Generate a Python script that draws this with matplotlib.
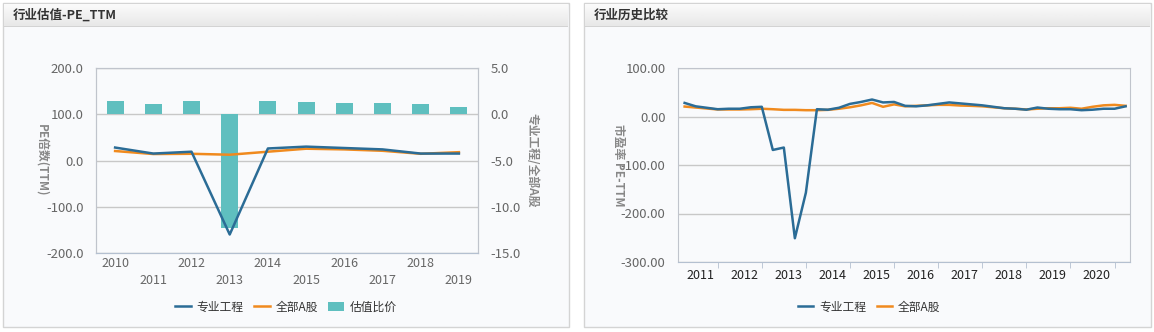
#!/usr/bin/env python3
"""Industry PE_TTM valuation panels: yearly comparison with ratio bars, and quarterly history."""
import numpy as np
import matplotlib.pyplot as plt
from matplotlib.patches import Rectangle
from matplotlib.ticker import FormatStrFormatter
from matplotlib.colors import LinearSegmentedColormap

plt.rcParams['font.family'] = ['Noto Sans CJK SC', 'DejaVu Sans']

W, H = 1154, 332
DPI = 100

BLUE = "#2b6c96"
ORANGE = "#f08a1e"
TEAL = "#5fbfbf"
BG = "#f9fafc"
GRID = "#c8c8c8"
SPINE = "#c0c4cc"
TICK_TXT = "#666666"

# yearly panel
YEARS = [str(y) for y in range(2010, 2020)]
PE_INDUSTRY = [28, 15, 19, -160, 26, 30, 27, 24, 15, 15]
PE_ALL = [20.5, 14, 14.5, 12.5, 19, 25.5, 24, 21, 14.5, 18]
RATIO = [1.42, 1.1, 1.42, -12.3, 1.42, 1.31, 1.2, 1.2, 1.1, 0.78]

# quarterly history panel
Q_YEARS = [str(y) for y in range(2011, 2021)]
Q_INDUSTRY = [28, 21, 18, 15, 16, 16, 19, 20, -69, -64,
              -251, -157, 15, 14, 18, 26, 30, 35, 29, 30,
              22, 21, 23, 26, 29, 27, 25, 23, 20, 17,
              16, 14, 18.5, 16, 15, 15, 13, 14, 16, 16, 21]
Q_ALL = [20.5, 18.5, 16.5, 14.5, 14.5, 14.5, 15, 16, 15, 13.7,
         13.7, 13, 13, 13.7, 16, 19, 23, 28, 20, 25,
         21, 22, 23, 24, 24, 22.6, 22, 21, 19, 17,
         16, 14.5, 16, 17, 17, 18, 16, 20, 23, 24, 22]


def box(x0, y0, x1, y1):
    return [x0 / W, 1 - y1 / H, (x1 - x0) / W, (y1 - y0) / H]


def panel(fig, x0, y0, x1, y1, title):
    fig.add_artist(Rectangle((x0 / W, 1 - y1 / H), (x1 - x0) / W, (y1 - y0) / H,
                             transform=fig.transFigure, facecolor=BG,
                             edgecolor="#d4d4d4", lw=1, zorder=-5))
    hdr = fig.add_axes(box(x0 + 1, y0 + 1, x1 - 1, 27))
    cmap = LinearSegmentedColormap.from_list("hdr", ["#fbfbfb", "#e7e7e7"])
    hdr.imshow(np.linspace(0, 1, 50).reshape(-1, 1), aspect="auto", cmap=cmap,
               extent=(0, 1, 0, 1))
    hdr.axis("off")
    hdr.axhline(0, color="#d0d0d0", lw=1.2)
    fig.text((x0 + 10) / W, 1 - 15 / H, title, fontsize=9, fontweight="bold",
             color="#333333", va="center", ha="left")


def style_spines(ax):
    for s in ["top", "right", "left"]:
        ax.spines[s].set_color(SPINE)
    ax.spines["bottom"].set_color("#b4c0d0")


def main():
    fig = plt.figure(figsize=(W / DPI, H / DPI), dpi=DPI)
    fig.patch.set_facecolor("white")

    panel(fig, 3, 3, 569, 327, "行业估值-PE_TTM")
    panel(fig, 584, 3, 1151, 327, "行业历史比较")

    # left panel
    ax = fig.add_axes(box(96, 68, 478, 253))
    ax2 = ax.twinx()
    x = np.arange(len(YEARS))
    bars = ax2.bar(x, RATIO, width=0.45, color=TEAL, zorder=2, label="估值比价")
    ax2.set_ylim(-15, 5)
    ax2.set_yticks([5, 0, -5, -10, -15])
    ax2.yaxis.set_major_formatter(FormatStrFormatter("%.1f"))
    ax2.grid(axis="y", color=GRID, lw=1)
    ax2.set_axisbelow(True)
    ax.set_zorder(ax2.get_zorder() + 1)
    ax.patch.set_visible(False)
    ax2.patch.set_visible(True)
    ax2.patch.set_facecolor(BG)

    l_all, = ax.plot(x, PE_ALL, color=ORANGE, lw=1.8, zorder=2, label="全部A股")
    l_ind, = ax.plot(x, PE_INDUSTRY, color=BLUE, lw=1.8, zorder=3, label="专业工程")
    ax.set_ylim(-200, 200)
    ax.set_yticks([200, 100, 0, -100, -200])
    ax.yaxis.set_major_formatter(FormatStrFormatter("%.1f"))
    ax.set_xlim(-0.5, len(YEARS) - 0.5)
    ax.set_xticks(x)
    ax.set_xticklabels([y if i % 2 == 0 else "\n" + y for i, y in enumerate(YEARS)],
                       linespacing=1.4)
    ax.set_xticks(x[1::2], minor=True)
    ax.tick_params(axis="x", which="major", length=0, pad=3, labelsize=9, colors=TICK_TXT)
    ax.tick_params(axis="x", which="minor", length=4, color="#b4c0d0")
    ax.tick_params(axis="y", length=0, pad=9, labelsize=9.5, colors=TICK_TXT)
    ax2.tick_params(axis="y", length=0, pad=9, labelsize=9.5, colors=TICK_TXT)
    for a in (ax, ax2):
        style_spines(a)
    ax.set_ylabel("PE倍数(TTM)", rotation=-90, fontsize=8.5, color="#888888",
                  fontweight="bold", labelpad=0)
    ax.yaxis.set_label_coords((35 - 96) / (478 - 96), 0.5)
    ax2.set_ylabel("专业工程/全部A股", rotation=-90, fontsize=8.5, color="#888888",
                   fontweight="bold")
    ax2.yaxis.set_label_coords((538 - 96) / (478 - 96), 0.5)

    fig.legend([l_ind, l_all, bars], ["专业工程", "全部A股", "估值比价"],
               loc="center", bbox_to_anchor=(286 / W, 1 - 307 / H), ncol=3,
               frameon=False, fontsize=8.5, handlelength=1.3, handletextpad=0.5,
               columnspacing=0.9, labelcolor="#333333")

    # right panel
    ax3 = fig.add_axes(box(678, 68, 1130, 262))
    ax3.set_facecolor(BG)
    xi = np.arange(len(Q_INDUSTRY))
    q_all, = ax3.plot(xi, Q_ALL, color=ORANGE, lw=1.8, zorder=2)
    q_ind, = ax3.plot(xi, Q_INDUSTRY, color=BLUE, lw=1.8, zorder=3)
    ax3.set_xlim(-0.6, 40.4)
    ax3.set_ylim(-300, 100)
    ax3.set_yticks([100, 0, -100, -200, -300])
    ax3.yaxis.set_major_formatter(FormatStrFormatter("%.2f"))
    ax3.grid(axis="y", color=GRID, lw=1)
    ax3.set_axisbelow(True)
    ax3.set_xticks(1.4 + 4 * np.arange(len(Q_YEARS)))
    ax3.set_xticklabels(Q_YEARS)
    ax3.set_xticks(3 + 4 * np.arange(len(Q_YEARS)), minor=True)
    ax3.tick_params(axis="x", which="major", length=0, pad=5, labelsize=9, colors="#222222")
    ax3.tick_params(axis="x", which="minor", length=4, color="#b4c0d0")
    ax3.tick_params(axis="y", length=0, pad=9, labelsize=9.5, colors=TICK_TXT)
    style_spines(ax3)
    ax3.set_ylabel("市盈率 PE-TTM", rotation=-90, fontsize=8.5, color="#888888",
                   fontweight="bold")
    ax3.yaxis.set_label_coords((612 - 678) / (1130 - 678), 0.5)

    fig.legend([q_ind, q_all], ["专业工程", "全部A股"],
               loc="center", bbox_to_anchor=(869 / W, 1 - 307 / H), ncol=2,
               frameon=False, fontsize=8.5, handlelength=1.3, handletextpad=0.5,
               columnspacing=0.9, labelcolor="#333333")

    fig.savefig("out.png", dpi=DPI)
    plt.close(fig)


if __name__ == "__main__":
    main()
